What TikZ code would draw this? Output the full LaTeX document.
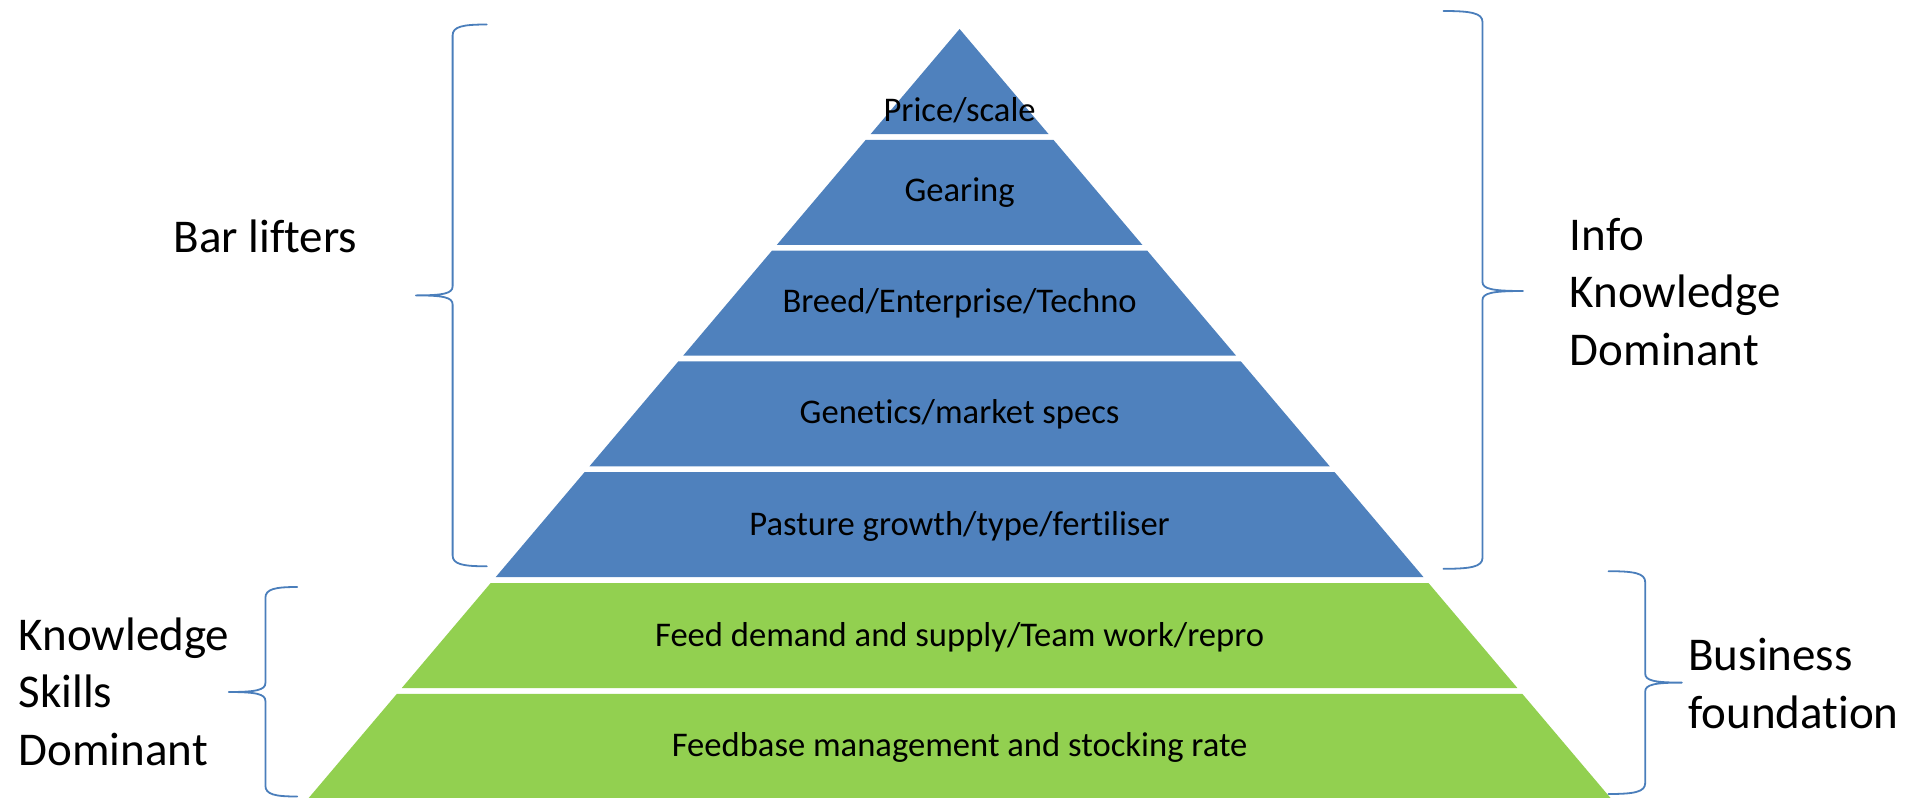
\documentclass[tikz,border=0pt]{standalone}
\usepackage{fontspec}
\setmainfont{Carlito}[Ligatures=NoCommon]
\usetikzlibrary{positioning}
\definecolor{pyrblue}{RGB}{79,129,189}
\definecolor{pyrgreen}{RGB}{146,208,80}
\definecolor{braceblue}{RGB}{74,126,187}
\tikzset{
  tier/.style    = {font=\fontsize{17.3}{20}\selectfont, inner sep=0pt, text height=1.5ex, text depth=.25ex},
  side/.style    = {font=\fontsize{23.5}{28.75}\selectfont, inner sep=0pt, align=left},
  bracket/.style = {draw=braceblue, line width=0.9pt, line cap=round, line join=round},
}
% curly brace: arm end x, spine x, tip x, top y, middle y, bottom y
\newcommand{\sidebrace}[6]{%
  \draw[bracket] (#1,#4) .. controls ({#2+0.3*(#1-#2)},#4) and (#2,{#4+2}) .. (#2,{#4+11})
    -- (#2,{#5-9}) .. controls (#2,{#5-2}) and ({#2+0.25*(#3-#2)},#5) .. (#3,#5)
    .. controls ({#2+0.25*(#3-#2)},#5) and (#2,{#5+2}) .. (#2,{#5+9})
    -- (#2,{#6-11}) .. controls (#2,{#6-2}) and ({#2+0.3*(#1-#2)},#6) .. (#1,#6);}

\begin{document}
\begin{tikzpicture}[x=0.5pt, y=-0.5pt]
  \useasboundingbox (0,0) rectangle (1918,798);

  % blue tiers
  \fill[pyrblue] (959.6,29) -- (1048.5,134) -- (870.7,134) -- cycle;
  \fill[pyrblue] (865.8,139.8) -- (1053.4,139.8) -- (1142.3,244.8) -- (776.9,244.8) -- cycle;
  \fill[pyrblue] (772.0,250.6) -- (1147.2,250.6) -- (1236.0,355.6) -- (683.2,355.6) -- cycle;
  \fill[pyrblue] (678.3,361.4) -- (1240.9,361.4) -- (1329.8,466.4) -- (589.4,466.4) -- cycle;
  \fill[pyrblue] (584.5,472.2) -- (1334.7,472.2) -- (1423.6,577.2) -- (495.6,577.2) -- cycle;
  % green tiers
  \fill[pyrgreen] (490.7,583.0) -- (1428.5,583.0) -- (1517.4,688.0) -- (401.8,688.0) -- cycle;
  \fill[pyrgreen] (396.9,693.8) -- (1522.3,693.8) -- (1611.2,798.8) -- (308.0,798.8) -- cycle;

  \node[tier] (price)    at (959.6,116)   {Price/scale};
  \node[tier] (gearing)  at (959.6,195.5) {Gearing};
  \node[tier] (breed)    at (959.6,307)   {Breed/Enterprise/Techno};
  \node[tier] (genetics) at (959.6,418)   {Genetics/market specs};
  \node[tier] (pasture)  at (959.6,529.5) {Pasture growth/type/fertiliser};
  \node[tier] (feed)     at (959.6,641)   {Feed demand and supply/Team work/repro};
  \node[tier] (feedbase) at (959.6,751)   {Feedbase management and stocking rate};

  \node[side] (barlift)             at (265.4,236.5)  {Bar lifters};
  \node[side, anchor=west] (info)   at (1569.4,291.8) {Info\\Knowledge\\Dominant};
  \node[side, anchor=west] (skills) at (18.3,691.5)   {Knowledge\\Skills\\Dominant};
  \node[side, anchor=west] (base)   at (1688,683.4)   {Business\\foundation};

  \sidebrace{486.8}{452.6}{415.9}{24.5}{295.4}{566.3}
  \sidebrace{1443.4}{1482.5}{1522.9}{11}{291}{568.8}
  \sidebrace{297.2}{265.4}{228.7}{587}{692}{796.5}
  \sidebrace{1608.5}{1645.2}{1681.9}{571.2}{682.6}{794}
\end{tikzpicture}
\end{document}
